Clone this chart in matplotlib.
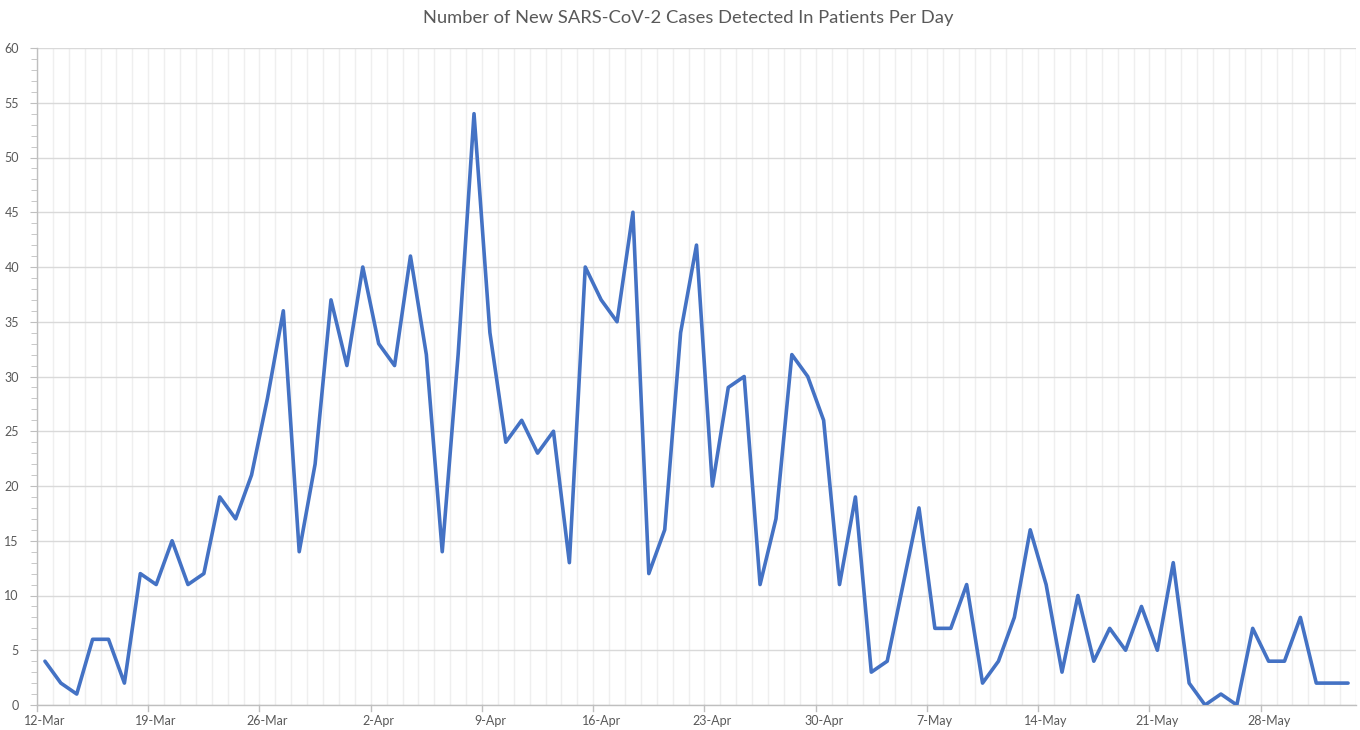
import matplotlib
matplotlib.use("Agg")
import matplotlib.pyplot as plt
import numpy as np

# Daily new cases, 12-Mar .. 2-Jun
cases = [4, 2, 1, 6, 6, 2, 12, 11, 15, 11, 12, 19, 17, 21, 28, 36, 14, 22, 37, 31,
         40, 33, 31, 41, 32, 14, 32, 54, 34, 24, 26, 23, 25, 13, 40, 37, 35, 45, 12, 16,
         34, 42, 20, 29, 30, 11, 17, 32, 30, 26, 11, 19, 3, 4, 11, 18, 7, 7, 11, 2,
         4, 8, 16, 11, 3, 10, 4, 7, 5, 9, 5, 13, 2, 0, 1, 0, 7, 4, 4, 8,
         2, 2, 2]
tick_labels = ["12-Mar", "19-Mar", "26-Mar", "2-Apr", "9-Apr", "16-Apr", "23-Apr",
               "30-Apr", "7-May", "14-May", "21-May", "28-May"]
title = "Number of New SARS-CoV-2 Cases Detected In Patients Per Day"

plt.rcParams['font.family'] = ['Lato', 'DejaVu Sans']
fig = plt.figure(figsize=(13.6, 7.3), dpi=100)
ax = fig.add_axes([37/1360, 1 - 705/730, (1356-37)/1360, (705-48)/730])

n = len(cases)
x = np.arange(n)
ax.plot(x, cases, color="#4472C4", linewidth=2.6, solid_joinstyle="round",
        solid_capstyle="round", zorder=3)

ax.set_xlim(-0.5, n - 0.5)
ax.set_ylim(0, 60)

# y axis
ax.set_yticks(np.arange(0, 61, 5))
ax.set_yticks(np.arange(0, 61, 1), minor=True)
ax.yaxis.grid(True, which="major", color="#d9d9d9", linewidth=1.0, zorder=1)
# x axis
ax.set_xticks(np.arange(0, n, 7))
ax.set_xticklabels(tick_labels)
ax.set_xticks(np.arange(-0.5, n, 1), minor=True)
ax.xaxis.grid(True, which="minor", color="#efefef", linewidth=1.0, zorder=0)
ax.tick_params(axis="x", which="major", length=0, pad=7)
ax.tick_params(axis="x", which="minor", length=0)
# major x tick marks at week boundaries
for xb in np.arange(-0.5, n, 7):
    ax.plot([xb, xb], [0, -0.55], color="#bfbfbf", linewidth=1.0, clip_on=False, zorder=2)

ax.tick_params(axis="y", which="major", length=5, color="#bfbfbf", pad=8)
ax.tick_params(axis="y", which="minor", length=4, color="#bfbfbf")
ax.tick_params(axis="both", labelsize=9, labelcolor="#595959")

for s in ["top", "right"]:
    ax.spines[s].set_visible(False)
for s in ["left", "bottom"]:
    ax.spines[s].set_color("#bfbfbf")
    ax.spines[s].set_linewidth(1.0)

fig.text(0.506, 1 - 18/730, title, ha="center", va="center", fontsize=13.2, color="#595959")

fig.savefig("out.png", dpi=100)
